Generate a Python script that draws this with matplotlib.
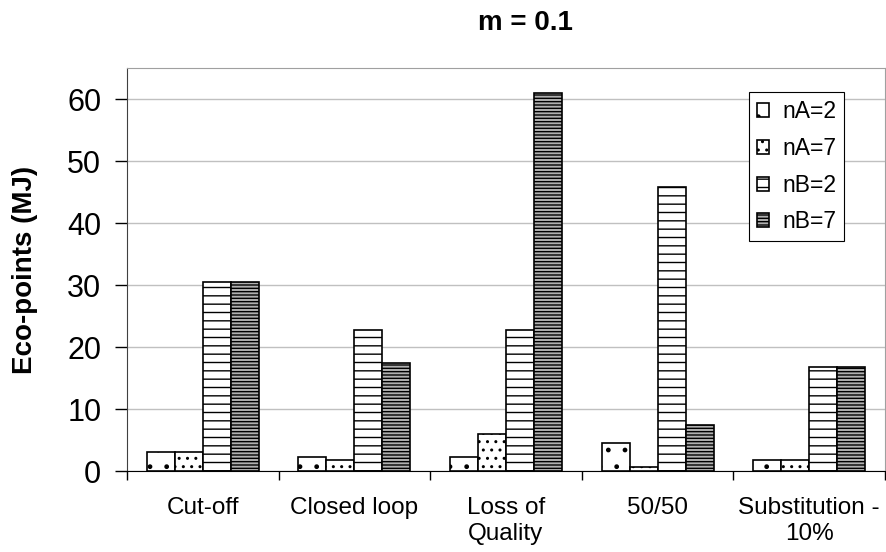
"""
plot.py - grouped bar chart, eco-points per allocation method (m = 0.1).
"""

import numpy as np
import matplotlib
matplotlib.use('Agg')
import matplotlib.pyplot as plt

plt.rcParams.update({
    'font.family':     ['Liberation Sans', 'DejaVu Sans'],
    'hatch.linewidth': 1.0,
})

categories = ['Cut-off', 'Closed loop', 'Loss of\nQuality', '50/50',
              'Substitution -\n10%']
series     = ['nA=2', 'nA=7', 'nB=2', 'nB=7']
nA2 = [3.0, 2.2, 2.2, 4.5, 1.8]
nA7 = [3.0, 1.8, 6.0, 0.7, 1.8]
nB2 = [30.5, 22.7, 22.8, 45.8, 16.8]
nB7 = [30.5, 17.5, 61.0, 7.5, 16.8]
yticks = [0, 10, 20, 30, 40, 50, 60]

styles = [
    dict(facecolor='white',   hatch='.'),
    dict(facecolor='white',   hatch='..'),
    dict(facecolor='white',   hatch='--'),
    dict(facecolor='#b0b0b0', hatch='-----'),
]

fig = plt.figure(figsize=(8.86, 5.52), dpi=100)
ax = fig.add_axes([0.1433, 0.1467, 0.8556, 0.7301])

x = np.arange(len(categories))
w = 0.185
for i, (name, vals, st) in enumerate(zip(series, [nA2, nA7, nB2, nB7], styles)):
    ax.bar(x + (i - 1.5) * w, vals, w, label=name, edgecolor='black',
           linewidth=1.2, zorder=3, **st)

ax.set_xlim(-0.5, len(categories) - 0.5)
ax.set_ylim(0, 65)
ax.set_yticks(yticks)
ax.tick_params(axis='y', labelsize=22, length=8.5, width=1, pad=10,
               direction='out')
ax.yaxis.grid(True, color='#c0c0c0', linewidth=1, zorder=0)
ax.set_axisbelow(True)

# category boundaries carry the ticks, names sit in between
ax.set_xticks(np.arange(len(categories) + 1) - 0.5)
ax.set_xticklabels([])
ax.tick_params(axis='x', which='major', length=6.5, width=1, direction='out')
ax.set_xticks(x, minor=True)
ax.set_xticklabels(categories, minor=True, fontsize=17.5, linespacing=1.22)
ax.tick_params(axis='x', which='minor', length=0, pad=19)

ax.spines['left'].set_color('#404040')
ax.spines['bottom'].set_color('black')
for s in ('top', 'right'):
    ax.spines[s].set_color('#a0a0a0')

ax.set_ylabel('Eco-points (MJ)', fontsize=20, fontweight='bold')
ax.yaxis.set_label_coords(-0.117, 0.5)

leg = ax.legend(loc='upper right', bbox_to_anchor=(0.946, 0.940),
                borderaxespad=0, fancybox=False, edgecolor='black',
                fontsize=16.5, handlelength=0.55, handleheight=0.55,
                handletextpad=0.55, labelspacing=0.6, framealpha=1,
                borderpad=0.35)
leg.get_frame().set_linewidth(0.8)

fig.text(525 / 886, 1 - 30 / 552, 'm = 0.1', ha='center', va='baseline',
         fontsize=20, fontweight='bold')

fig.savefig('out.png', dpi=100)
